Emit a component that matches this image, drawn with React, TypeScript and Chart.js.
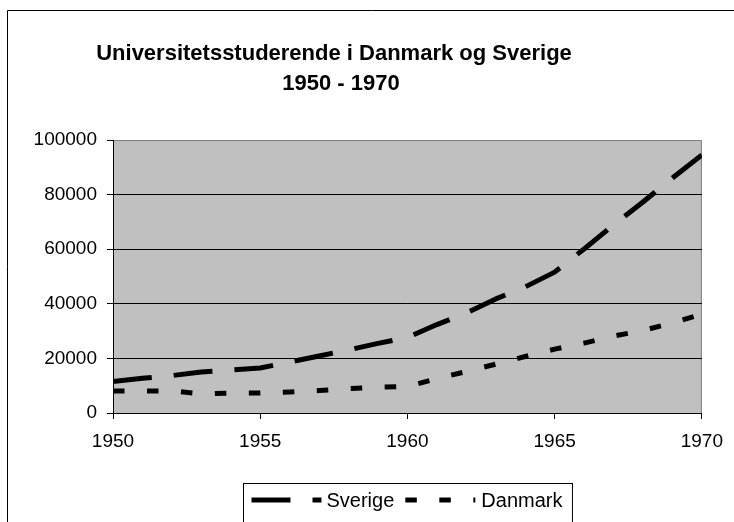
import React, { useEffect, useRef } from 'react';
import { Chart, registerables } from 'chart.js';

Chart.register(...registerables);

const TITLE_LINES = ['Universitetsstuderende i Danmark og Sverige', '1950 - 1970'];
const YEARS = [1950, 1951, 1952, 1953, 1954, 1955, 1956, 1957, 1958, 1959, 1960, 1961, 1962, 1963, 1964, 1965, 1966, 1967, 1968, 1969, 1970];
const SVERIGE = [11500, 12700, 13700, 15000, 15800, 16500, 18700, 20900, 23100, 25500, 27700, 32400, 36600, 41800, 46200, 51600, 60100, 68900, 77300, 86100, 94500];
const DANMARK = [8100, 8100, 8100, 7000, 7300, 7300, 7700, 8200, 8900, 9500, 9700, 12600, 15200, 17900, 20700, 23400, 25600, 28200, 30200, 33000, 36200];
const SERIES_LABELS = ['Sverige', 'Danmark'];
const X_MIN = 1950;
const X_MAX = 1970;
const X_STEP = 5;
const Y_MIN = 0;
const Y_MAX = 100000;
const Y_STEP = 20000;

const FONT = '"Liberation Sans", Arial, sans-serif';

const framePlugin = {
  id: 'frame',
  beforeDraw(chart: any) {
    const ctx = chart.ctx;
    const a = chart.chartArea;
    ctx.save();
    // outer border (top and left)
    ctx.strokeStyle = '#000';
    ctx.lineWidth = 1;
    ctx.beginPath();
    ctx.moveTo(7.5, 530);
    ctx.lineTo(7.5, 10.5);
    ctx.lineTo(740, 10.5);
    ctx.stroke();
    // plot background
    ctx.fillStyle = '#c0c0c0';
    ctx.fillRect(a.left, a.top, a.right - a.left, a.bottom - a.top);
    ctx.strokeStyle = '#808080';
    ctx.beginPath();
    ctx.moveTo(a.left, a.top + 0.5);
    ctx.lineTo(a.right - 0.5, a.top + 0.5);
    ctx.lineTo(a.right - 0.5, a.bottom);
    ctx.stroke();
    // title
    ctx.fillStyle = '#000';
    ctx.font = 'bold 22px ' + FONT;
    ctx.textAlign = 'center';
    ctx.textBaseline = 'alphabetic';
    ctx.fillText(TITLE_LINES[0], 334, 60);
    ctx.fillText(TITLE_LINES[1], 341, 89.5);
    ctx.restore();
  },
  afterDraw(chart: any) {
    const ctx = chart.ctx;
    const a = chart.chartArea;
    const ds = chart.data.datasets;
    ctx.save();
    ctx.font = '20px ' + FONT;
    const sample = 70;
    const w0 = ctx.measureText(ds[0].label).width;
    const w1 = ctx.measureText(ds[1].label).width;
    const total = 8 + sample + 5 + w0 + 11 + sample + 6 + w1 + 10;
    const left = Math.round((a.left + a.right) / 2 - total / 2) + 0.5;
    const top = 483.5;
    ctx.strokeStyle = '#000';
    ctx.lineWidth = 1;
    ctx.strokeRect(left, top, total, 60);
    const yLine = 500;
    let x = left + 8;
    const items = [
      { label: ds[0].label, dash: ds[0].borderDash, w: w0, gapAfter: 11 },
      { label: ds[1].label, dash: ds[1].borderDash, w: w1, gapAfter: 0 },
    ];
    items.forEach((it, i) => {
      ctx.save();
      ctx.strokeStyle = '#000';
      ctx.lineWidth = 5;
      ctx.lineCap = 'butt';
      ctx.setLineDash(it.dash);
      ctx.beginPath();
      ctx.moveTo(x, yLine);
      ctx.lineTo(x + sample, yLine);
      ctx.stroke();
      ctx.restore();
      x += sample + (i === 0 ? 5 : 6);
      ctx.fillStyle = '#000';
      ctx.textAlign = 'left';
      ctx.textBaseline = 'alphabetic';
      ctx.fillText(it.label, x, 507);
      x += it.w + it.gapAfter;
    });
    ctx.restore();
  },
};

export default function App() {
  const ref = useRef<HTMLCanvasElement | null>(null);

  useEffect(() => {
    document.body.style.margin = '0';
    const canvas = ref.current;
    if (!canvas) return;
    const chart = new Chart(canvas, {
      type: 'line',
      data: {
        datasets: [
          {
            label: SERIES_LABELS[0],
            data: YEARS.map((y, i) => ({ x: y, y: SVERIGE[i] })),
            borderColor: '#000',
            borderWidth: 5,
            borderDash: [39, 22],
            borderCapStyle: 'butt',
            borderJoinStyle: 'round',
            pointRadius: 0,
            tension: 0,
            fill: false,
          },
          {
            label: SERIES_LABELS[1],
            data: YEARS.map((y, i) => ({ x: y, y: DANMARK[i] })),
            borderColor: '#000',
            borderWidth: 5,
            borderDash: [11.5, 22.5],
            borderCapStyle: 'butt',
            borderJoinStyle: 'round',
            pointRadius: 0,
            tension: 0,
            fill: false,
          },
        ],
      },
      options: {
        responsive: false,
        animation: false,
        layout: { padding: { left: 0, top: 140, right: 31, bottom: 69 } },
        plugins: {
          legend: { display: false },
          title: { display: false },
          tooltip: { enabled: false },
        },
        scales: {
          x: {
            type: 'linear',
            min: X_MIN,
            max: X_MAX,
            ticks: {
              stepSize: X_STEP,
              color: '#000',
              font: { family: FONT, size: 19 },
              padding: 11,
              maxRotation: 0,
              callback: (v: any) => String(v),
            },
            grid: {
              drawOnChartArea: false,
              drawTicks: true,
              tickLength: 6,
              tickColor: '#000',
            },
            border: { display: true, color: '#000', width: 1 },
            afterFit: (s: any) => { s.height = 40; },
          },
          y: {
            min: Y_MIN,
            max: Y_MAX,
            ticks: {
              stepSize: Y_STEP,
              color: '#000',
              font: { family: FONT, size: 19 },
              padding: 10,
              callback: (v: any) => String(v),
            },
            grid: {
              color: (c: any) => (c.tick && c.tick.value === Y_MAX ? '#808080' : '#000'),
              drawTicks: true,
              tickLength: 6,
              tickColor: '#000',
            },
            border: { display: true, color: '#000', width: 1 },
            afterFit: (s: any) => { s.width = 113; },
          },
        },
      },
      plugins: [framePlugin],
    } as any);
    return () => chart.destroy();
  }, []);

  return (
    <div style={{ position: 'absolute', left: 0, top: 0, width: 734, height: 522, background: '#fff' }}>
      <canvas ref={ref} width={734} height={522} style={{ display: 'block' }} />
    </div>
  );
}
